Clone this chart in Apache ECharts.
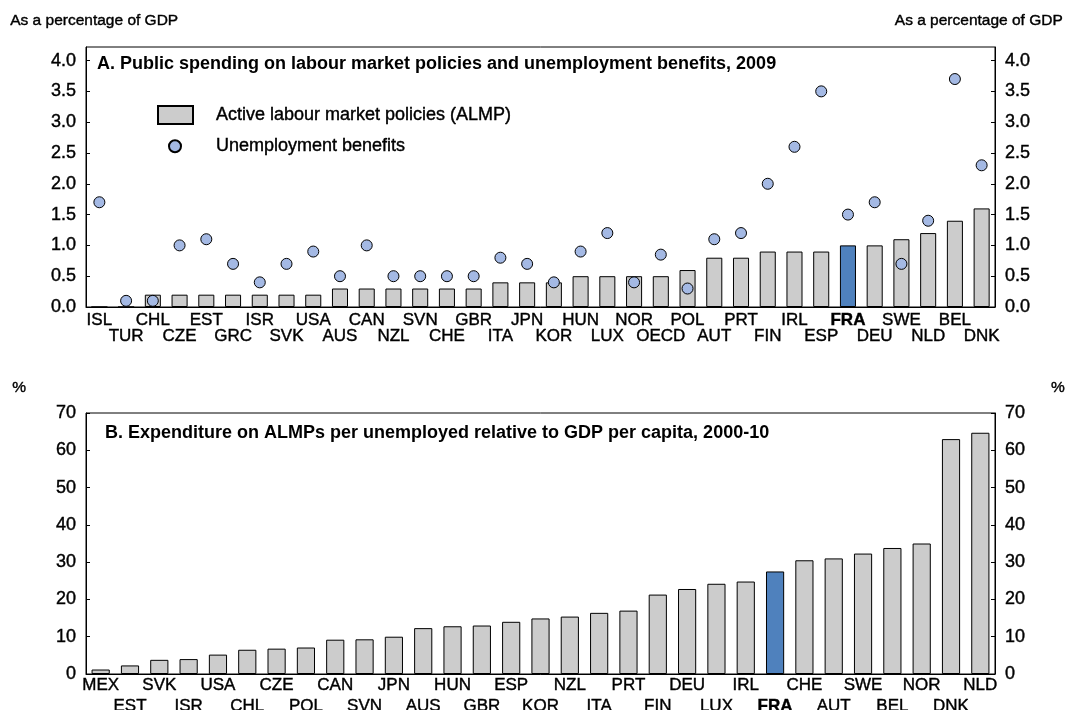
<!DOCTYPE html>
<html>
<head>
<meta charset="utf-8">
<script src="https://cdn.jsdelivr.net/npm/echarts@6/dist/echarts.min.js"></script>
<style>
  html, body { margin: 0; padding: 0; background: #fff; }
  #chart { width: 1068px; height: 710px; }
</style>
</head>
<body>
<div id="chart"></div>
<script>
// Panel A: public spending, 2009 (% of GDP)
const catsA = ['ISL','TUR','CHL','CZE','EST','GRC','ISR','SVK','USA','AUS','CAN','NZL','SVN','CHE','GBR','ITA','JPN','KOR','HUN','LUX','NOR','OECD','POL','AUT','PRT','FIN','IRL','ESP','FRA','DEU','SWE','NLD','BEL','DNK'];
const almpA = [0,0,0.2,0.2,0.2,0.2,0.2,0.2,0.2,0.3,0.3,0.3,0.3,0.3,0.3,0.4,0.4,0.4,0.5,0.5,0.5,0.5,0.6,0.8,0.8,0.9,0.9,0.9,1.0,1.0,1.1,1.2,1.4,1.6];
const benefitsA = [1.7,0.1,0.1,1.0,1.1,0.7,0.4,0.7,0.9,0.5,1.0,0.5,0.5,0.5,0.5,0.8,0.7,0.4,0.9,1.2,0.4,0.85,0.3,1.1,1.2,2.0,2.6,3.5,1.5,1.7,0.7,1.4,3.7,2.3];
const ticksA = ['0.0','0.5','1.0','1.5','2.0','2.5','3.0','3.5','4.0'];

// Panel B: ALMP spending per unemployed relative to GDP per capita, 2000-10 (%)
const catsB = ['MEX','EST','SVK','ISR','USA','CHL','CZE','POL','CAN','SVN','JPN','AUS','HUN','GBR','ESP','KOR','NZL','ITA','PRT','FIN','DEU','LUX','IRL','FRA','CHE','AUT','SWE','BEL','NOR','DNK','NLD'];
const valuesB = [1.2,2.3,3.8,4.0,5.2,6.5,6.8,7.1,9.2,9.3,10.0,12.3,12.8,13.0,14.0,14.9,15.4,16.4,17.0,21.3,22.8,24.2,24.8,27.5,30.5,31.0,32.3,33.8,35.0,63.0,64.7];

const GREY = '#cccccc';
const BLUE = '#4f81bd';
const DOT = '#a4b9e4';
const FONT = 'Liberation Sans, Arial, sans-serif';
// slight outline to mimic the heavy text rendering of the original
const HEAVY = { textBorderColor: '#000', textBorderWidth: 0.4 };

const chart = echarts.init(document.getElementById('chart'));

function barData(cats, vals) {
  return vals.map((v, i) => cats[i] === 'FRA' ? { value: v, itemStyle: { color: BLUE } } : v);
}

function xLabel(v, i) {
  const s = v === 'FRA' ? '{b|FRA}' : v;
  return i % 2 ? '\n' + s : s;
}

function xLabelStyle(lh, margin) {
  return Object.assign({
    interval: 0,
    color: '#000',
    fontSize: 17,
    fontFamily: FONT,
    lineHeight: lh,
    margin: margin,
    formatter: xLabel,
    rich: { b: { fontWeight: 'bold', fontSize: 17, fontFamily: FONT, lineHeight: lh, color: '#000' } }
  }, HEAVY);
}

function yAxisDef(grid, pos, max, interval, fmt) {
  return {
    type: 'value',
    gridIndex: grid,
    position: pos,
    min: 0,
    max: max,
    interval: interval,
    splitLine: { show: false },
    axisLine: { show: true, lineStyle: { color: '#000', width: 1 } },
    axisTick: { show: true, inside: true, length: 4, lineStyle: { color: '#000' } },
    axisLabel: Object.assign({
      color: '#000', fontSize: 18, fontFamily: FONT, margin: 10,
      showMaxLabel: max === 70, formatter: fmt
    }, HEAVY)
  };
}

const topText = { font: '15.5px ' + FONT, fill: '#000', stroke: '#000', lineWidth: 0.4 };
const titleText = { font: 'bold 18px ' + FONT, fill: '#000' };

const option = {
  animation: false,
  backgroundColor: '#fff',
  textStyle: { fontFamily: FONT },
  graphic: [
    { type: 'text', left: 10, top: 13, style: Object.assign({ text: 'As a percentage of GDP' }, topText) },
    { type: 'text', right: 5, top: 13, style: Object.assign({ text: 'As a percentage of GDP' }, topText) },
    { type: 'text', left: 97, top: 55, style: Object.assign({ text: 'A. Public spending on labour market policies and unemployment benefits, 2009' }, titleText) },
    { type: 'text', left: 12, top: 380, style: Object.assign({ text: '%' }, topText) },
    { type: 'text', right: 3, top: 380, style: Object.assign({ text: '%' }, topText) },
    { type: 'text', left: 105, top: 424, style: Object.assign({ text: 'B. Expenditure on ALMPs per unemployed relative to GDP per capita, 2000-10' }, titleText) }
  ],
  legend: [
    {
      orient: 'vertical', left: 157, top: 105, padding: 0,
      itemWidth: 35, itemHeight: 18, icon: 'rect',
      data: ['Active labour market policies (ALMP)'],
      textStyle: Object.assign({ color: '#000', fontSize: 18, fontFamily: FONT, padding: [0, 0, 0, 18] }, HEAVY)
    },
    {
      orient: 'vertical', left: 168, top: 137, padding: 0,
      itemWidth: 12, itemHeight: 12, icon: 'circle',
      data: ['Unemployment benefits'],
      textStyle: Object.assign({ color: '#000', fontSize: 18, fontFamily: FONT, padding: [0, 0, 0, 30] }, HEAVY)
    }
  ],
  grid: [
    { left: 86, right: 73, top: 47, height: 260, show: true, borderColor: '#000', borderWidth: 1, outerBoundsMode: 'none' },
    { left: 86, right: 73, top: 413, height: 261, show: true, borderColor: '#000', borderWidth: 1, outerBoundsMode: 'none' }
  ],
  xAxis: [
    {
      type: 'category', gridIndex: 0, data: catsA,
      axisLine: { lineStyle: { color: '#000' } },
      axisTick: { show: false },
      axisLabel: xLabelStyle(16, 5)
    },
    {
      type: 'category', gridIndex: 1, data: catsB,
      axisLine: { lineStyle: { color: '#000' } },
      axisTick: { show: false },
      axisLabel: xLabelStyle(21, 1)
    }
  ],
  yAxis: [
    yAxisDef(0, 'left', 4.22, 0.5, v => ticksA[Math.round(v / 0.5)]),
    yAxisDef(0, 'right', 4.22, 0.5, v => ticksA[Math.round(v / 0.5)]),
    yAxisDef(1, 'left', 70, 10),
    yAxisDef(1, 'right', 70, 10)
  ],
  series: [
    {
      name: 'Active labour market policies (ALMP)',
      type: 'bar', xAxisIndex: 0, yAxisIndex: 0,
      barWidth: '60%',
      data: barData(catsA, almpA),
      itemStyle: { color: GREY, borderColor: '#000', borderWidth: 1 },
      z: 2
    },
    {
      name: 'Unemployment benefits',
      type: 'scatter', xAxisIndex: 0, yAxisIndex: 0,
      symbol: 'circle', symbolSize: 11,
      data: benefitsA,
      itemStyle: { color: DOT, borderColor: '#000', borderWidth: 1, opacity: 1 },
      z: 3
    },
    {
      name: 'B',
      type: 'bar', xAxisIndex: 1, yAxisIndex: 2,
      barWidth: '62%',
      data: barData(catsB, valuesB),
      itemStyle: { color: GREY, borderColor: '#000', borderWidth: 1 }
    }
  ]
};

chart.setOption(option);
</script>
</body>
</html>
